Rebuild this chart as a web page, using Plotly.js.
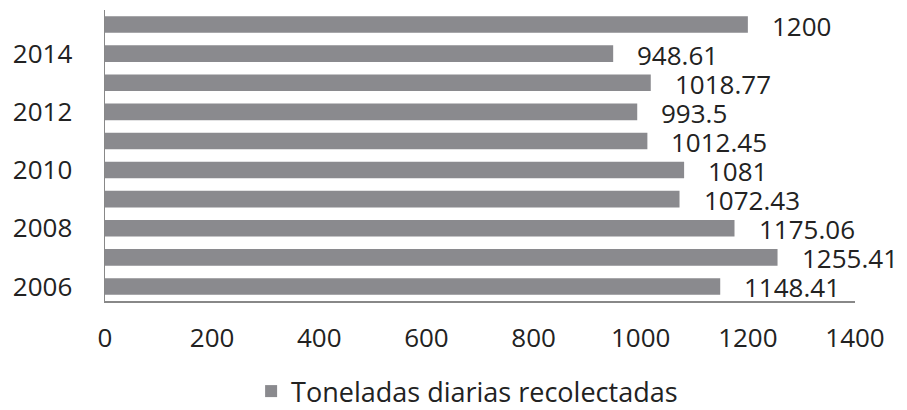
<!DOCTYPE html>
<html><head><meta charset="utf-8">
<script src="https://cdn.plot.ly/plotly-3.0.1.min.js"></script>
<style>html,body{margin:0;padding:0;background:#fff;}</style>
</head><body>
<div id="chart" style="width:907px;height:410px;"></div>
<script>
const years = [2006, 2007, 2008, 2009, 2010, 2011, 2012, 2013, 2014, 2015];
const tonnes = [1148.41, 1255.41, 1175.06, 1072.43, 1081, 1012.45, 993.5, 1018.77, 948.61, 1200];
const labels = ["1148.41", "1255.41", "1175.06", "1072.43", "1081", "1012.45", "993.5", "1018.77", "948.61", "1200"];
const xTicks = [0, 200, 400, 600, 800, 1000, 1200, 1400];
const yTicks = [2006, 2008, 2010, 2012, 2014];
const seriesName = "Toneladas diarias recolectadas";

const FS = 26;
const trace = {
  type: 'bar', orientation: 'h',
  x: tonnes, y: years, name: seriesName,
  marker: {color: '#8a8a8e', line: {width: 0}},
  width: 0.57, hoverinfo: 'none'
};
const annotations = tonnes.map((v, i) => ({
  x: v, y: years[i], text: labels[i], showarrow: false,
  xanchor: 'left', yanchor: 'middle', xshift: 22, yshift: -1,
  font: {family: 'Open Sans', size: FS, color: '#222'}
}));
const layout = {
  width: 907, height: 410,
  margin: {l: 105, r: 52, t: 10, b: 109, autoexpand: false},
  paper_bgcolor: '#fff', plot_bgcolor: '#fff',
  font: {family: 'Open Sans', size: FS, color: '#222'},
  xaxis: {
    range: [0, 1400], tickvals: xTicks, ticktext: xTicks.map(String),
    showgrid: false, zeroline: false,
    showline: true, linecolor: '#888', linewidth: 1.5,
    ticks: 'outside', ticklen: 13, tickcolor: 'rgba(0,0,0,0)',
    tickfont: {family: 'Open Sans', size: FS, color: '#222'}, fixedrange: true
  },
  yaxis: {
    range: [2005.5, 2015.5], tickvals: yTicks, ticktext: yTicks.map(String),
    showgrid: false, zeroline: false,
    showline: true, linecolor: '#888', linewidth: 1.5,
    ticks: 'outside', ticklen: 26, tickcolor: 'rgba(0,0,0,0)',
    tickfont: {family: 'Open Sans', size: FS, color: '#222'}, fixedrange: true
  },
  showlegend: true,
  legend: {
    orientation: 'h', x: 0.515, xref: 'container', xanchor: 'center',
    y: 0.045, yref: 'container', yanchor: 'middle',
    font: {family: 'Open Sans', size: 27, color: '#222'}
  },
  annotations: annotations
};
Plotly.newPlot('chart', [trace], layout, {displayModeBar: false, staticPlot: true});
</script>
</body></html>
